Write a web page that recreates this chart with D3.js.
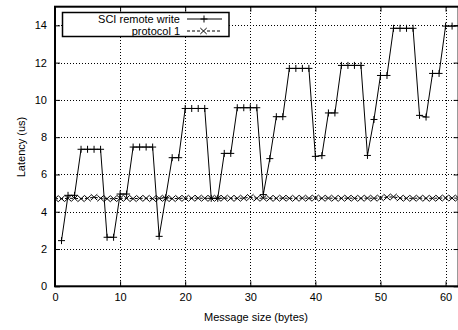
<!DOCTYPE html>
<html>
<head>
<meta charset="utf-8">
<script src="https://cdn.jsdelivr.net/npm/d3@7"></script>
<style>
    body { margin: 0; background: #fff; }
    svg { display: block; font-family: "Liberation Sans", Arial, sans-serif; }
    .grid line { stroke: #000; stroke-width: 1; stroke-dasharray: 1, 2; shape-rendering: crispEdges; }
</style>
</head>
<body>
<svg width="458" height="330"></svg>
<script>
// message sizes (bytes)
var sciSizes = [1, 2, 3, 4, 5, 6, 7, 8, 9, 10, 11, 12, 13, 14, 15, 16, 17, 18, 19, 20,
    21, 22, 23, 24, 25, 26, 27, 28, 29, 30, 31, 32, 33, 34, 35, 36, 37, 38, 39, 40,
    41, 42, 43, 44, 45, 46, 47, 48, 49, 50, 51, 52, 53, 54, 55, 56, 57, 58, 59, 60, 61, 62];
// SCI remote write latency (us)
var sciLatency = [2.45, 4.88, 4.88, 7.35, 7.35, 7.35, 7.35, 2.63, 2.63, 4.95, 4.95, 7.47, 7.47, 7.47, 7.47, 2.68,
    4.75, 6.9, 6.9, 9.54, 9.54, 9.54, 9.54, 4.72, 4.72, 7.13, 7.13, 9.58, 9.58, 9.58, 9.58, 4.92,
    6.85, 9.1, 9.1, 11.69, 11.69, 11.69, 11.69, 6.97, 7.01, 9.3, 9.3, 11.85, 11.85, 11.85, 11.85, 7.02,
    8.95, 11.31, 11.31, 13.84, 13.84, 13.84, 13.84, 9.17, 9.08, 11.42, 11.42, 13.96, 13.96, 13.98];

var protoSizes = [0, 1, 2, 3, 4, 5, 6, 7, 8, 9, 10, 11, 12, 13, 14, 15, 16, 17, 18, 19, 20,
    21, 22, 23, 24, 25, 26, 27, 28, 29, 30, 31, 32, 33, 34, 35, 36, 37, 38, 39, 40,
    41, 42, 43, 44, 45, 46, 47, 48, 49, 50, 51, 52, 53, 54, 55, 56, 57, 58, 59, 60, 61, 62];
// protocol 1 latency (us)
var protoLatency = [4.7, 4.7, 4.72, 4.72, 4.7, 4.72, 4.78, 4.72, 4.7, 4.7, 4.72, 4.72, 4.7, 4.72, 4.72, 4.7,
    4.72, 4.72, 4.7, 4.72, 4.72, 4.72, 4.73, 4.72, 4.72, 4.72, 4.73, 4.72, 4.72, 4.73, 4.78, 4.72,
    4.73, 4.72, 4.72, 4.73, 4.72, 4.72, 4.73, 4.72, 4.74, 4.72, 4.73, 4.72, 4.72, 4.73, 4.72, 4.72,
    4.73, 4.72, 4.74, 4.78, 4.8, 4.73, 4.72, 4.72, 4.73, 4.72, 4.72, 4.73, 4.74, 4.73, 4.73];

var xTicks = [0, 10, 20, 30, 40, 50, 60];
var yTicks = [0, 2, 4, 6, 8, 10, 12, 14];

var seriesNames = ["SCI remote write", "protocol 1"];

main();

function main() {
    var svg = d3.select("svg");
    var mLeft = 55, mRight = 458.6, mTop = 6.7, mBottom = 286.3;

    var x = d3.scaleLinear().domain([0, 62]).range([mLeft, mRight]);
    var y = d3.scaleLinear().domain([0, 15]).range([mBottom, mTop]);

    // grid
    svg.append("g").attr("class", "grid")
        .selectAll("line").data(yTicks.slice(1)).enter().append("line")
        .attr("x1", mLeft).attr("x2", mRight)
        .attr("y1", d => Math.round(y(d)) + 0.5).attr("y2", d => Math.round(y(d)) + 0.5);
    svg.append("g").attr("class", "grid")
        .selectAll("line").data(xTicks.slice(1)).enter().append("line")
        .attr("y1", mTop).attr("y2", mBottom)
        .attr("x1", d => Math.round(x(d)) + 0.5).attr("x2", d => Math.round(x(d)) + 0.5);

    // axes (ticks inward like gnuplot)
    svg.append("g").attr("transform", "translate(" + mLeft + ",0)")
        .call(d3.axisLeft(y).tickValues(yTicks).tickSize(-5).tickPadding(8));
    svg.append("g").attr("transform", "translate(0," + mBottom + ")")
        .call(d3.axisBottom(x).tickValues(xTicks).tickSize(-5).tickPadding(7));
    svg.append("g").attr("transform", "translate(0," + mTop + ")")
        .call(d3.axisTop(x).tickValues(xTicks).tickSize(-5).tickFormat(""));
    svg.append("g").attr("transform", "translate(" + mRight + ",0)")
        .call(d3.axisRight(y).tickValues(yTicks).tickSize(-5).tickFormat(""));

    svg.selectAll(".domain").remove();
    svg.selectAll(".tick line").attr("stroke", "#000");
    svg.selectAll(".tick text").attr("font-size", 11)
        .attr("font-family", "Liberation Sans, Arial, sans-serif").attr("fill", "#000");

    // frame
    svg.append("rect")
        .attr("x", mLeft).attr("y", mTop)
        .attr("width", mRight - mLeft).attr("height", mBottom - mTop)
        .attr("fill", "none").attr("stroke", "#000").attr("stroke-width", 2);

    // axis titles
    svg.append("text")
        .attr("x", 256).attr("y", 321)
        .attr("text-anchor", "middle").attr("font-size", 11)
        .text("Message size (bytes)");
    svg.append("text")
        .attr("transform", "translate(25,147) rotate(-90)")
        .attr("text-anchor", "middle").attr("font-size", 11)
        .text("Latency (us)");

    var line = d3.line().x(d => x(d[0])).y(d => y(d[1]));
    var sciData = sciSizes.map((s, i) => [s, sciLatency[i]]);
    var protoData = protoSizes.map((s, i) => [s, protoLatency[i]]);

    svg.append("clipPath").attr("id", "clip").append("rect")
        .attr("x", mLeft).attr("y", mTop).attr("width", mRight - mLeft).attr("height", mBottom - mTop);
    var plot = svg.append("g").attr("clip-path", "url(#clip)");

    function plus(g, cx, cy) {
        g.append("path")
            .attr("d", "M" + (cx - 3.5) + "," + cy + "h7M" + cx + "," + (cy - 3.5) + "v7")
            .attr("stroke", "#000").attr("stroke-width", 1).attr("fill", "none");
    }
    function cross(g, cx, cy) {
        g.append("path")
            .attr("d", "M" + (cx - 3.2) + "," + (cy - 3) + "l6.4,6M" + (cx - 3.2) + "," + (cy + 3) + "l6.4,-6")
            .attr("stroke", "#000").attr("stroke-width", 1).attr("fill", "none");
    }

    // protocol 1
    plot.append("path").datum(protoData)
        .attr("d", line).attr("fill", "none")
        .attr("stroke", "#000").attr("stroke-width", 1).attr("stroke-dasharray", "3,2");
    protoData.forEach(d => cross(plot, x(d[0]), y(d[1])));

    // SCI remote write
    plot.append("path").datum(sciData)
        .attr("d", line).attr("fill", "none")
        .attr("stroke", "#000").attr("stroke-width", 1);
    sciData.forEach(d => plus(plot, x(d[0]), y(d[1])));

    // legend
    var key = svg.append("g");
    key.append("rect")
        .attr("x", 62.5).attr("y", 12.5).attr("width", 166.5).attr("height", 24)
        .attr("fill", "#fff").attr("stroke", "#000").attr("stroke-width", 1.5);
    var rows = [19, 31];
    seriesNames.forEach((name, i) => {
        key.append("text")
            .attr("x", 180).attr("y", rows[i] + 4)
            .attr("text-anchor", "end").attr("font-size", 11)
            .text(name);
        var ln = key.append("line")
            .attr("x1", 187).attr("x2", 222)
            .attr("y1", rows[i]).attr("y2", rows[i])
            .attr("stroke", "#000").attr("stroke-width", 1);
        if (i == 0) {
            plus(key, 204, rows[i]);
        } else {
            ln.attr("stroke-dasharray", "3,2");
            key.append("rect").attr("x", 200).attr("y", rows[i] - 3.5)
                .attr("width", 7).attr("height", 7).attr("fill", "#fff");
            cross(key, 203.5, rows[i]);
        }
    });
}
</script>
</body>
</html>
